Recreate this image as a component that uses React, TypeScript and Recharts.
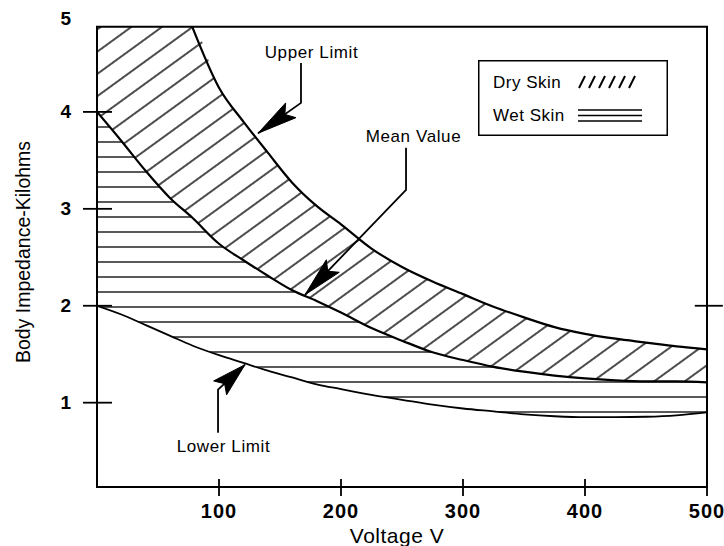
import React from 'react';
import { ComposedChart, Area, Line, XAxis, YAxis, ReferenceArea, ReferenceLine, Legend } from 'recharts';

// ---- data ----
const voltage = [0, 20, 40, 60, 78, 100, 120, 140, 160, 180, 200, 225, 250, 275, 300, 325, 350, 375, 400, 425, 450, 475, 500];
const upperLimit: (number | null)[] = [null, null, null, null, 4.88, 4.25, 3.9, 3.58, 3.27, 3.03, 2.84, 2.59, 2.4, 2.25, 2.12, 1.99, 1.88, 1.78, 1.71, 1.66, 1.62, 1.58, 1.55];
const meanValue = [4.0, 3.7, 3.39, 3.11, 2.91, 2.64, 2.47, 2.31, 2.16, 2.05, 1.93, 1.77, 1.64, 1.52, 1.44, 1.37, 1.32, 1.28, 1.25, 1.23, 1.22, 1.22, 1.21];
const lowerLimit = [2.0, 1.91, 1.8, 1.69, 1.59, 1.49, 1.41, 1.33, 1.26, 1.19, 1.14, 1.08, 1.03, 0.98, 0.94, 0.91, 0.88, 0.86, 0.85, 0.85, 0.855, 0.87, 0.9];

const xTicks = [100, 200, 300, 400, 500];
const yTicks = [1, 2, 3, 4, 5];

const X_DOMAIN: [number, number] = [0, 500];
const Y_DOMAIN: [number, number] = [0.13, 5];
const FRAME_TOP = 4.88;

const upperArrow = [{ v: 167.2, z: 4.505 }, { v: 167.2, z: 4.093 }, { v: 132, z: 3.78 }];
const meanArrow = [{ v: 253.3, z: 3.63 }, { v: 253.3, z: 3.196 }, { v: 170.5, z: 2.113 }];
const lowerArrow = [{ v: 99.2, z: 0.69 }, { v: 99.2, z: 1.134 }, { v: 121.3, z: 1.392 }];
const upperLabel = [{ v: 175.8, z: 4.608, text: 'Upper Limit' }];
const meanLabel = [{ v: 259.4, z: 3.742, text: 'Mean Value' }];
const lowerLabel = [{ v: 103.7, z: 0.546, text: 'Lower Limit' }];

const rightTick = [{ x: 490, y: 2 }, { x: 513, y: 2 }];

const table = voltage.map((v, i) => ({
  v,
  dry: [meanValue[i], upperLimit[i] ?? FRAME_TOP],
  wet: [lowerLimit[i], meanValue[i]],
  upper: upperLimit[i],
  mean: meanValue[i],
  lower: lowerLimit[i],
}));

// ---- layout ----
const W = 724;
const H = 546;
const PLOT_LEFT = 97;
const PLOT_TOP = 15;
const PLOT_RIGHT = 707;
const PLOT_BOTTOM = 487;
const Y_AXIS_W = 60;
const X_AXIS_H = 40;
const FONT = '"Liberation Sans", Arial, Helvetica, sans-serif';

const XTick = (props: any) => {
  const { x, payload } = props;
  return (
    <g>
      <line x1={x} x2={x} y1={PLOT_BOTTOM - 8} y2={PLOT_BOTTOM + 9} stroke="#000" strokeWidth={1.8} />
      <text x={x} y={511} textAnchor="middle" dominantBaseline="central" fontFamily={FONT} fontSize={20} fontWeight="bold" letterSpacing={1} fill="#000">
        {payload.value}
      </text>
    </g>
  );
};

const YTick = (props: any) => {
  const { y, payload } = props;
  const top = payload.value === 5;
  return (
    <g>
      {!top && <line x1={PLOT_LEFT - 14} x2={PLOT_LEFT + 15} y1={y} y2={y} stroke="#000" strokeWidth={1.8} />}
      <text x={71} y={top ? y + 3 : y} textAnchor="end" dominantBaseline="central" fontFamily={FONT} fontSize={19} fontWeight="bold" fill="#000">
        {payload.value}
      </text>
    </g>
  );
};

const arrowDot = (count: number, angleDeg: number, len: number, width: number) => (props: any) => {
  const { cx, cy, index } = props;
  if (index !== count - 1 || cx == null) return <g key={`a${index}`} />;
  const t = (angleDeg * Math.PI) / 180;
  const ux = Math.cos(t);
  const uy = Math.sin(t);
  const bx = cx - len * ux;
  const by = cy - len * uy;
  const px = -uy * (width / 2);
  const py = ux * (width / 2);
  const nx = cx - len * 0.82 * ux;
  const ny = cy - len * 0.82 * uy;
  const d = `M${cx},${cy} L${bx + px},${by + py} L${nx},${ny} L${bx - px},${by - py} Z`;
  return <path key={`a${index}`} d={d} fill="#000" stroke="#000" strokeWidth={1} />;
};

const labelDot = (props: any) => {
  const { cx, cy, payload, index } = props;
  return (
    <text key={`l${index}`} x={cx} y={cy} textAnchor="middle" dominantBaseline="central" fontFamily={FONT} fontSize={17} letterSpacing={0.6} fill="#000">
      {payload.text}
    </text>
  );
};

const LegendBox = (props: any) => {
  const items = (props.payload || []).filter((p: any) => p.value === 'Dry Skin' || p.value === 'Wet Skin');
  return (
    <svg width={190} height={76} style={{ display: 'block' }}>
      <rect x={0.75} y={0.75} width={188.5} height={74.5} fill="#fff" stroke="#000" strokeWidth={1.5} />
      {items.map((it: any, i: number) => {
        const cy = i === 0 ? 22 : 55;
        return (
          <g key={it.value}>
            <text x={15} y={cy} dominantBaseline="central" fontFamily={FONT} fontSize={17} letterSpacing={0.5} fill="#000">
              {it.value}
            </text>
            {it.value === 'Dry Skin'
              ? [0, 1, 2, 3, 4, 5].map((k) => (
                  <line key={k} x1={101 + k * 10} y1={cy + 6} x2={107 + k * 10} y2={cy - 6} stroke="#000" strokeWidth={2} />
                ))
              : [-5, 0.5, 6].map((o, k) => (
                  <line key={k} x1={100} x2={164} y1={cy + o} y2={cy + o} stroke="#000" strokeWidth={1.6} />
                ))}
          </g>
        );
      })}
    </svg>
  );
};

const XTitle = () => (
  <text x={397} y={535} textAnchor="middle" dominantBaseline="central" fontFamily={FONT} fontSize={21} letterSpacing={0.5} fill="#000">
    Voltage V
  </text>
);

const YTitle = () => (
  <text x={23} y={252} transform="rotate(-90 23 252)" textAnchor="middle" dominantBaseline="central" fontFamily={FONT} fontSize={19.5} fill="#000">
    Body Impedance-Kilohms
  </text>
);

export default function App() {
  return (
    <div style={{ position: 'absolute', left: 0, top: 0, width: W, height: H, background: '#fff', fontFamily: FONT }}>
      <ComposedChart
        width={W}
        height={H}
        data={table}
        margin={{ top: PLOT_TOP, right: W - PLOT_RIGHT, bottom: H - PLOT_BOTTOM - X_AXIS_H, left: PLOT_LEFT - Y_AXIS_W }}
      >
        <defs>
          <pattern id="dryHatch" patternUnits="userSpaceOnUse" width={18} height={18} patternTransform="rotate(-36)">
            <line x1={0} y1={9} x2={18} y2={9} stroke="#000" strokeWidth={1.4} />
          </pattern>
          <pattern id="wetHatch" patternUnits="userSpaceOnUse" width={10} height={15}>
            <line x1={0} y1={7} x2={10} y2={7} stroke="#000" strokeWidth={1.3} />
          </pattern>
        </defs>
        <XAxis
          dataKey="v"
          type="number"
          domain={X_DOMAIN}
          allowDataOverflow
          ticks={xTicks}
          interval={0}
          height={X_AXIS_H}
          axisLine={false}
          tickLine={false}
          tick={XTick}
          label={<XTitle />}
        />
        <YAxis
          type="number"
          domain={Y_DOMAIN}
          allowDataOverflow
          ticks={yTicks}
          interval={0}
          width={Y_AXIS_W}
          axisLine={false}
          tickLine={false}
          tick={YTick}
          label={<YTitle />}
        />
        <Legend
          layout="horizontal"
          verticalAlign="middle"
          align="center"
          wrapperStyle={{ left: 478, top: 60, width: 190, height: 76 }}
          content={LegendBox}
        />
        <Area name="Dry Skin" dataKey="dry" type="monotone" fill="url(#dryHatch)" fillOpacity={1} stroke="none" isAnimationActive={false} />
        <Area name="Wet Skin" dataKey="wet" type="monotone" fill="url(#wetHatch)" fillOpacity={1} stroke="none" isAnimationActive={false} />
        <Line legendType="none" dataKey="upper" type="monotone" stroke="#000" strokeWidth={2.2} dot={false} isAnimationActive={false} />
        <Line legendType="none" dataKey="mean" type="monotone" stroke="#000" strokeWidth={2.2} dot={false} isAnimationActive={false} />
        <Line legendType="none" dataKey="lower" type="monotone" stroke="#000" strokeWidth={1.8} dot={false} isAnimationActive={false} />
        <ReferenceArea x1={X_DOMAIN[0]} x2={X_DOMAIN[1]} y1={Y_DOMAIN[0]} y2={FRAME_TOP} fill="none" fillOpacity={0} stroke="#000" strokeWidth={2} ifOverflow="visible" />
        <ReferenceLine segment={rightTick} stroke="#000" strokeWidth={1.8} ifOverflow="visible" />
        <Line legendType="none" data={upperArrow} dataKey="z" type="linear" stroke="#000" strokeWidth={1.8} dot={arrowDot(upperArrow.length, 145, 40, 18)} isAnimationActive={false} />
        <Line legendType="none" data={meanArrow} dataKey="z" type="linear" stroke="#000" strokeWidth={1.8} dot={arrowDot(meanArrow.length, 134, 40, 18)} isAnimationActive={false} />
        <Line legendType="none" data={lowerArrow} dataKey="z" type="linear" stroke="#000" strokeWidth={1.8} dot={arrowDot(lowerArrow.length, -43, 34, 19)} isAnimationActive={false} />
        <Line legendType="none" data={upperLabel} dataKey="z" stroke="none" dot={labelDot} isAnimationActive={false} />
        <Line legendType="none" data={meanLabel} dataKey="z" stroke="none" dot={labelDot} isAnimationActive={false} />
        <Line legendType="none" data={lowerLabel} dataKey="z" stroke="none" dot={labelDot} isAnimationActive={false} />
      </ComposedChart>
    </div>
  );
}
